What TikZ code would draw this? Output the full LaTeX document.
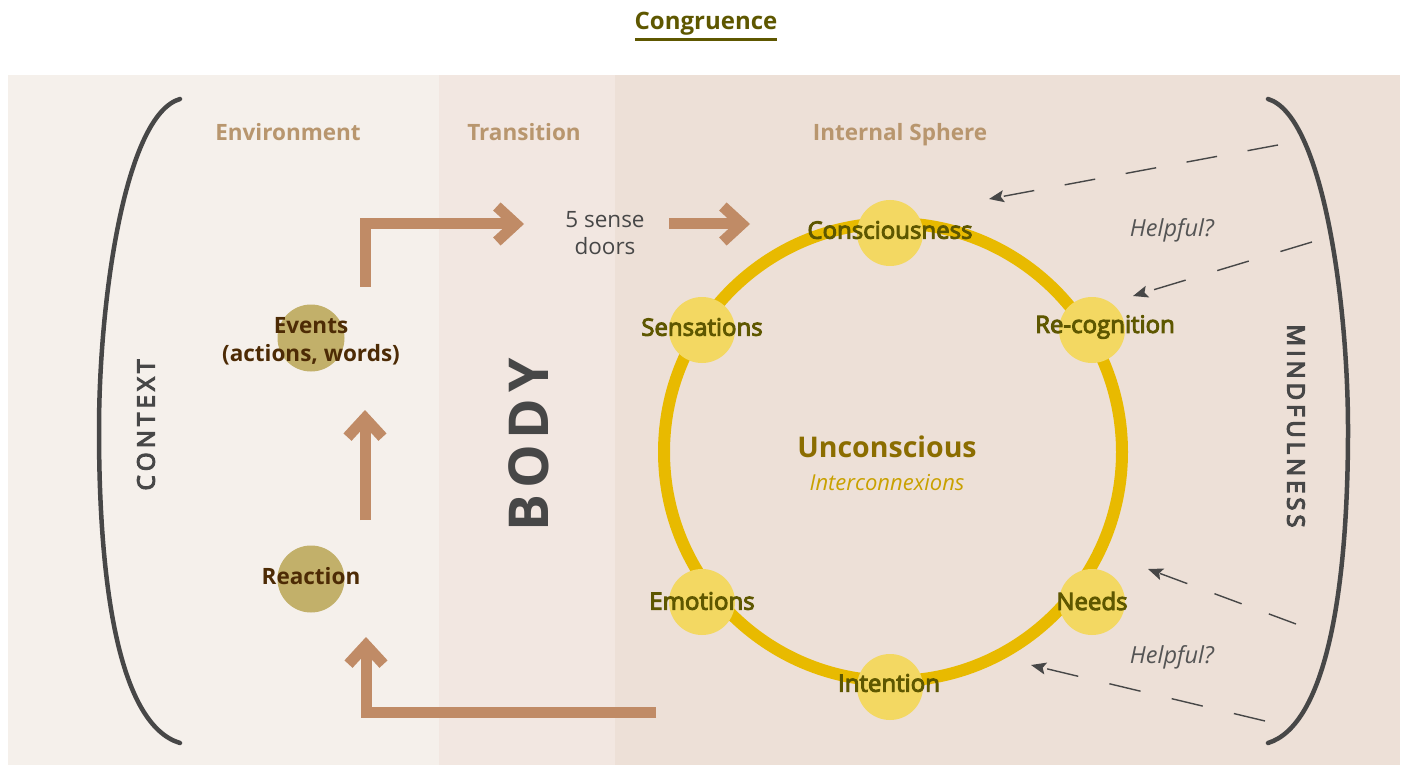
\documentclass[tikz,border=0pt]{standalone}
\usepackage{fontspec}
\setmainfont{Open Sans}
\newfontfamily\medf[FakeBold=4]{Open Sans}
\newfontfamily\semif[FakeBold=5]{Open Sans}
\usetikzlibrary{arrows.meta}
\definecolor{panelA}{RGB}{245,240,235}
\definecolor{panelB}{RGB}{242,231,225}
\definecolor{panelC}{RGB}{237,224,215}
\definecolor{olivec}{RGB}{94,87,0}
\definecolor{tanhead}{RGB}{184,150,110}
\definecolor{tanarrow}{RGB}{192,139,102}
\definecolor{dgray}{RGB}{71,71,71}
\definecolor{ringc}{RGB}{232,186,0}
\definecolor{smallfill}{RGB}{243,216,98}
\definecolor{evfill}{RGB}{194,176,106}
\definecolor{brownt}{RGB}{77,43,5}
\definecolor{uncon}{RGB}{139,109,0}
\definecolor{intc}{RGB}{201,161,0}
\definecolor{helpc}{RGB}{85,85,85}
\begin{document}
\begin{tikzpicture}[x=1pt,y=-1pt,
  header/.style={text=tanhead, font=\bfseries\fontsize{22.5}{26}\selectfont, inner sep=0pt, anchor=base},
  tanarr/.style={draw=tanarrow, line width=11pt, line join=miter, -{Straight Barb[length=19pt,width=35pt]}},
  bracket/.style={draw=dgray, line width=4.5pt, line cap=round},
  smallcirc/.style={circle, fill=smallfill, minimum size=66pt, inner sep=0pt},
  evcirc/.style={circle, fill=evfill, minimum size=67pt, inner sep=0pt},
  lbl/.style={text=olivec, font=\medf\fontsize{24}{28}\selectfont, inner sep=0pt},
  evlbl/.style={text=brownt, font=\bfseries\fontsize{22.5}{28}\selectfont, inner sep=0pt, align=center},
  dasharr/.style={draw=dgray, line width=1.4pt, -{Stealth[length=15pt,width=12pt,inset=3pt]}},
  helpful/.style={text=helpc, font=\itshape\fontsize{23.5}{27}\selectfont, inner sep=0pt},
  vertword/.style={text=dgray, font=\semif\fontsize{24}{24}\selectfont, inner sep=0pt}
]
\useasboundingbox (0,0) rectangle (1405,767);
% panels
\fill[panelA] (8,75) rectangle (439,765);
\fill[panelB] (439,75) rectangle (615,765);
\fill[panelC] (615,75) rectangle (1400,765);

% title
\node[text=olivec, font=\bfseries\fontsize{24}{28}\selectfont, inner sep=0pt, anchor=base] (title) at (706,30) {Congruence};
\draw[olivec, line width=3pt] (635,40) -- (777,40);

% headers
\node[header] (envh) at (288,141) {Environment};
\node[header] (transh) at (524,141) {Transition};
\node[header] (inth) at (900,141) {Internal Sphere};

% brackets
\draw[bracket] (180,99) .. controls (125,115) and (99,300) .. (99,430) .. controls (99,590) and (120,725) .. (180,743);
\draw[bracket] (1268,99) .. controls (1322,115) and (1348,300) .. (1348,430) .. controls (1348,590) and (1326,725) .. (1268,743);

% vertical words
\node[vertword, rotate=90] (ctx) at (146,425) {C\kern4.2pt O\kern4.2pt N\kern4.2pt T\kern4.2pt E\kern4.2pt X\kern4.2pt T};
\node[vertword, rotate=-90] (mind) at (1296,426) {M\kern3.9pt I\kern3.9pt N\kern3.9pt D\kern3.9pt F\kern3.9pt U\kern3.9pt L\kern3.9pt N\kern3.9pt E\kern3.9pt S\kern3.9pt S};
\node[text=dgray, font=\bfseries\fontsize{55}{55}\selectfont, inner sep=0pt, rotate=90] (body) at (529,445) {B\kern6pt O\kern6pt D\kern6pt Y};

% environment circles
\node[evcirc] (events) at (311,338) {};
\node[evlbl] (eventsT) at (311,341) {Events\\(actions, words)};
\node[evcirc] (reaction) at (311,579) {};
\node[evlbl] (reactionT) at (311,576) {Reaction};

% sense doors
\node[text=dgray, font=\fontsize{22.5}{27}\selectfont, align=center, inner sep=0pt] (senses) at (605,233) {5 sense\\doors};

% tan arrows
\coordinate (a1s) at (365,520);
\coordinate (a1e) at (365,410);
\draw[tanarr] (a1s) -- (a1e);
\coordinate (a2s) at (656,712);
\coordinate (a2e) at (366,637);
\draw[tanarr] (a2s) -| (a2e);
\coordinate (a3s) at (365,287);
\coordinate (a3e) at (524,224);
\draw[tanarr] (a3s) |- (a3e);
\coordinate (a4s) at (669,224);
\coordinate (a4e) at (750,224);
\draw[tanarr] (a4s) -- (a4e);

% ring
\node[circle, draw=ringc, line width=12pt, minimum size=458pt, inner sep=0pt] (ring) at (893,452) {};

% small circles
\node[smallcirc] (cons) at (890,233) {};
\node[smallcirc] (sens) at (702,330) {};
\node[smallcirc] (recog) at (1092,330) {};
\node[smallcirc] (emot) at (702,602) {};
\node[smallcirc] (needs) at (1092,602) {};
\node[smallcirc] (intent) at (890,687) {};
\node[lbl] (consT) at (890,230) {Consciousness};
\node[lbl] (sensT) at (702,327) {Sensations};
\node[lbl] (recogT) at (1105,327) {Re-cognition};
\node[lbl] (emotT) at (702,601) {Emotions};
\node[lbl] (needsT) at (1092,601) {Needs};
\node[lbl] (intentT) at (889,683) {Intention};

% center text
\node[text=uncon, font=\bfseries\fontsize{28.5}{31}\selectfont, inner sep=0pt] (unc) at (887,447) {Unconscious};
\node[text=intc, font=\itshape\fontsize{22}{25}\selectfont, inner sep=0pt] (inter) at (887,483) {Interconnexions};

% helpful labels
\node[helpful] (help1) at (1172,230) {Helpful?};
\node[helpful] (help2) at (1172,657) {Helpful?};

% dashed arrows
\coordinate (d1s) at (1278,145);
\coordinate (d1e) at (989,199);
\draw[dasharr, dash pattern=on 31pt off 31pt] (d1s) -- (d1e);
\coordinate (d2s) at (1312,242);
\coordinate (d2e) at (1133,296);
\draw[dasharr, dash pattern=on 33pt off 33pt] (d2s) -- (d2e);
\coordinate (d3s) at (1296,624);
\coordinate (d3e) at (1148,569);
\draw[dasharr, dash pattern=on 29pt off 29pt] (d3s) -- (d3e);
\coordinate (d4s) at (1265,721);
\coordinate (d4e) at (1031,665);
\draw[dasharr, dash pattern=on 32pt off 32pt] (d4s) -- (d4e);
\end{tikzpicture}
\end{document}
